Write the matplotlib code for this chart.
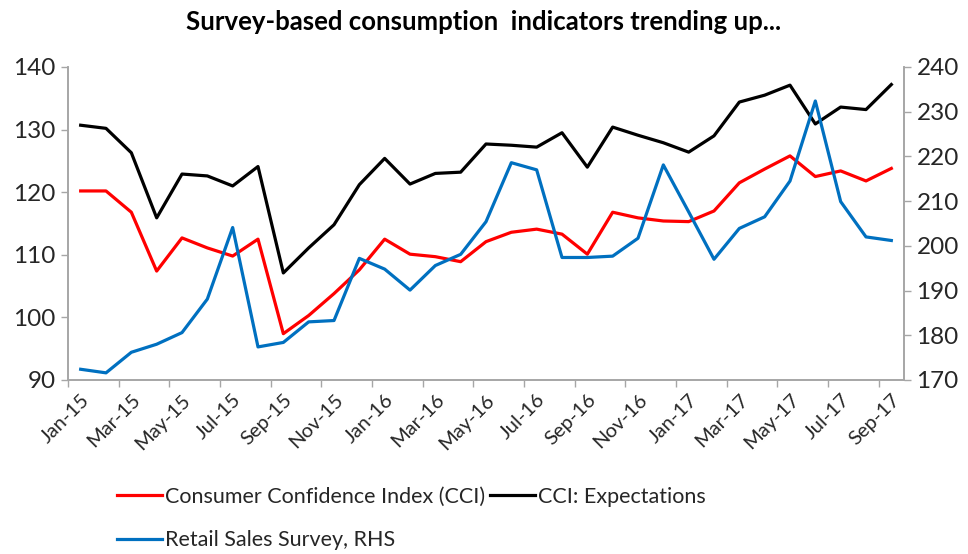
import numpy as np
import matplotlib
matplotlib.use("Agg")
import matplotlib.pyplot as plt

plt.rcParams['font.family'] = ['Lato', 'DejaVu Sans']

# monthly data, Jan-15 .. Sep-17
months = ['Jan-15', 'Feb-15', 'Mar-15', 'Apr-15', 'May-15', 'Jun-15', 'Jul-15', 'Aug-15',
          'Sep-15', 'Oct-15', 'Nov-15', 'Dec-15', 'Jan-16', 'Feb-16', 'Mar-16', 'Apr-16',
          'May-16', 'Jun-16', 'Jul-16', 'Aug-16', 'Sep-16', 'Oct-16', 'Nov-16', 'Dec-16',
          'Jan-17', 'Feb-17', 'Mar-17', 'Apr-17', 'May-17', 'Jun-17', 'Jul-17', 'Aug-17',
          'Sep-17']

cci = [120.2, 120.2, 116.8, 107.4, 112.7, 111.1, 109.8, 112.5,
       97.4, 100.3, 103.8, 107.6, 112.5, 110.1, 109.7, 108.9,
       112.1, 113.6, 114.1, 113.3, 110.1, 116.8, 115.9, 115.4,
       115.3, 117.0, 121.5, 123.7, 125.8, 122.5, 123.4, 121.8,
       123.8]

cci_expect = [130.7, 130.2, 126.3, 115.9, 122.9, 122.6, 121.0, 124.1,
              107.1, 111.1, 114.8, 121.2, 125.4, 121.3, 123.0, 123.2,
              127.7, 127.5, 127.2, 129.5, 124.0, 130.4, 129.1, 127.9,
              126.4, 129.0, 134.4, 135.5, 137.1, 130.9, 133.6, 133.2,
              137.2]

retail = [172.4, 171.6, 176.2, 178.0, 180.6, 188.1, 204.1, 177.4,
          178.4, 183.0, 183.3, 197.2, 194.8, 190.1, 195.6, 198.1,
          205.4, 218.6, 217.0, 197.4, 197.4, 197.7, 201.7, 218.1,
          207.6, 197.0, 203.9, 206.5, 214.5, 232.4, 209.9, 202.0,
          201.2]

RED = '#FF0000'
BLUE = '#0070C0'
GREY = '#A6A6A6'
TXT = '#262626'

fig = plt.figure(figsize=(9.68, 5.54), dpi=100)
ax = fig.add_axes([68 / 968, 1 - 380 / 554, (904 - 68) / 968, (380 - 67) / 554])
ax2 = ax.twinx()

x = np.arange(len(months))
l1, = ax.plot(x, cci, color=RED, lw=2.3, label='Consumer Confidence Index (CCI)')
l2, = ax.plot(x, cci_expect, color='black', lw=2.3, label='CCI: Expectations')
l3, = ax2.plot(x, retail, color=BLUE, lw=2.3, label='Retail Sales Survey, RHS')

ax.set_xlim(-0.5, len(months) - 0.5)
ax.set_ylim(90, 140)
ax2.set_ylim(170, 240)
ax.set_yticks(np.arange(90, 141, 10))
ax2.set_yticks(np.arange(170, 241, 10))

# tick marks between categories, labels on every other month
ax.set_xticks(np.arange(-0.5, len(months) - 1, 2))
ax.set_xticklabels([])
ax.set_xticks(x[::2], minor=True)
ax.set_xticklabels(months[::2], minor=True, rotation=45, ha='right',
                   rotation_mode='anchor', fontsize=14.5, color=TXT)
ax.tick_params(axis='x', which='minor', length=0, pad=8)
ax.tick_params(axis='x', which='major', length=5, color=GREY, width=1)

for a in (ax, ax2):
    a.spines['top'].set_visible(False)
    for s in ('left', 'right', 'bottom'):
        a.spines[s].set_color(GREY)
        a.spines[s].set_linewidth(1.2)
    a.tick_params(axis='y', length=5, color=GREY, width=1, labelsize=17.5,
                  labelcolor=TXT, pad=4)

fig.text(0.5, 1 - 22 / 554, 'Survey-based consumption  indicators trending up...',
         ha='center', va='center', fontsize=18.5, fontweight='bold', color='black')

fig.legend([l1, l3, l2], [l1.get_label(), l3.get_label(), l2.get_label()],
           ncol=2, loc='upper left', bbox_to_anchor=(104 / 968, 1 - 474 / 554),
           frameon=False, fontsize=15.5, handlelength=2.1, handletextpad=0.15,
           columnspacing=0.2, labelspacing=1.08, labelcolor=TXT,
           borderaxespad=0.2)

fig.savefig('out.png', dpi=100)
